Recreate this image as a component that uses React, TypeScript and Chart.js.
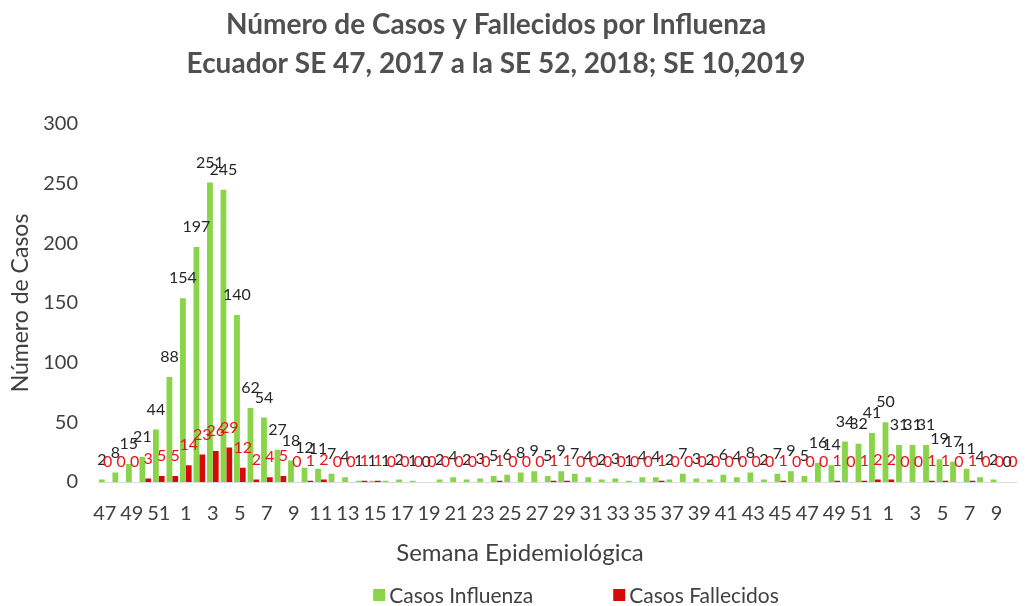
import React, { useEffect, useRef } from 'react';
import { Chart, registerables } from 'chart.js';

Chart.register(...registerables);

const weeks = [
  '47', '48', '49', '50', '51', '52',
  '1', '2', '3', '4', '5', '6', '7', '8', '9', '10',
  '11', '12', '13', '14', '15', '16', '17', '18', '19', '20',
  '21', '22', '23', '24', '25', '26', '27', '28', '29', '30',
  '31', '32', '33', '34', '35', '36', '37', '38', '39', '40',
  '41', '42', '43', '44', '45', '46', '47', '48', '49', '50',
  '51', '52',
  '1', '2', '3', '4', '5', '6', '7', '8', '9', '10',
];

const casosInfluenza = [
  2, 8, 15, 21, 44, 88,
  154, 197, 251, 245, 140, 62, 54, 27, 18, 12,
  11, 7, 4, 1, 1, 1, 2, 1, 0, 2,
  4, 2, 3, 5, 6, 8, 9, 5, 9, 7,
  4, 2, 3, 1, 4, 4, 2, 7, 3, 2,
  6, 4, 8, 2, 7, 9, 5, 16, 14, 34,
  32, 41,
  50, 31, 31, 31, 19, 17, 11, 4, 2, 0,
];

const casosFallecidos = [
  0, 0, 0, 3, 5, 5,
  14, 23, 26, 29, 12, 2, 4, 5, 0, 1,
  2, 0, 0, 1, 1, 0, 0, 0, 0, 0,
  0, 0, 0, 1, 0, 0, 0, 1, 1, 0,
  0, 0, 0, 0, 0, 1, 0, 0, 0, 0,
  0, 0, 0, 0, 1, 0, 0, 0, 1, 0,
  1, 2,
  2, 0, 0, 1, 1, 0, 1, 0, 0, 0,
];

const titleLines = [
  'Número de Casos y Fallecidos por Influenza',
  'Ecuador SE 47, 2017 a la SE 52, 2018; SE 10,2019',
];
const yAxisTitle = 'Número de Casos';
const xAxisTitle = 'Semana Epidemiológica';
const seriesNames = ['Casos Influenza', 'Casos Fallecidos'];

const GREEN = '#8AD44A';
const RED = '#D80808';
const FONT = 'Lato, "Open Sans", sans-serif';

const valueLabels = {
  id: 'valueLabels',
  afterDatasetsDraw(chart: any) {
    const ctx = chart.ctx;
    ctx.save();
    ctx.font = `16px ${FONT}`;
    ctx.textAlign = 'center';
    ctx.textBaseline = 'middle';
    chart.data.datasets.forEach((ds: any, i: number) => {
      const meta = chart.getDatasetMeta(i);
      ctx.fillStyle = ds.labelColor;
      meta.data.forEach((el: any, j: number) => {
        ctx.fillText(String(ds.data[j]), el.x, el.y - 20);
      });
    });
    ctx.restore();
  },
};

const decorations = {
  id: 'decorations',
  afterDraw(chart: any) {
    const ctx = chart.ctx;
    ctx.save();
    // main title
    ctx.fillStyle = '#505050';
    ctx.font = `bold 28px ${FONT}`;
    ctx.textAlign = 'center';
    ctx.textBaseline = 'alphabetic';
    ctx.fillText(titleLines[0], 496, 34);
    ctx.fillText(titleLines[1], 496, 73);
    // x axis title
    ctx.fillStyle = '#404040';
    ctx.font = `24px ${FONT}`;
    ctx.textBaseline = 'middle';
    ctx.fillText(xAxisTitle, 520, 553);
    // legend
    ctx.font = `21px ${FONT}`;
    const box = 12;
    const gap = 4;
    const spacing = 80;
    const w1 = ctx.measureText(seriesNames[0]).width;
    const w2 = ctx.measureText(seriesNames[1]).width;
    const total = box + gap + w1 + spacing + box + gap + w2;
    let x = 576 - total / 2;
    const cy = 595;
    const colors = chart.data.datasets.map((d: any) => d.backgroundColor);
    ctx.textAlign = 'left';
    ctx.fillStyle = colors[0];
    ctx.fillRect(x, cy - box / 2, box, box);
    x += box + gap;
    ctx.fillStyle = '#404040';
    ctx.fillText(seriesNames[0], x, cy + 1);
    x += w1 + spacing;
    ctx.fillStyle = colors[1];
    ctx.fillRect(x, cy - box / 2, box, box);
    x += box + gap;
    ctx.fillStyle = '#404040';
    ctx.fillText(seriesNames[1], x, cy + 1);
    ctx.restore();
  },
};

export default function App() {
  const canvasRef = useRef<HTMLCanvasElement | null>(null);

  useEffect(() => {
    if (!canvasRef.current) return;
    const chart = new Chart(canvasRef.current, {
      type: 'bar',
      data: {
        labels: weeks,
        datasets: [
          {
            label: seriesNames[0],
            data: casosInfluenza,
            backgroundColor: GREEN,
            labelColor: '#262626',
            categoryPercentage: 0.86,
            barPercentage: 1.0,
          } as any,
          {
            label: seriesNames[1],
            data: casosFallecidos,
            backgroundColor: RED,
            labelColor: '#E8141C',
            categoryPercentage: 0.86,
            barPercentage: 1.0,
          } as any,
        ],
      },
      options: {
        animation: false,
        responsive: true,
        maintainAspectRatio: false,
        layout: { padding: { top: 124, right: 1, bottom: 34, left: 0 } },
        plugins: {
          legend: { display: false },
          title: { display: false },
          tooltip: { enabled: false },
        },
        scales: {
          x: {
            grid: { display: false, drawTicks: false },
            border: { display: true, color: '#D9D9D9', width: 1 },
            ticks: {
              autoSkip: false,
              maxRotation: 0,
              minRotation: 0,
              padding: 20,
              color: '#404040',
              font: { family: FONT, size: 20 },
              callback: (_v: any, i: number) => (i % 2 === 0 ? weeks[i] : ''),
            },
            afterFit: (scale: any) => {
              scale.height = 90;
            },
          },
          y: {
            min: 0,
            max: 300,
            grid: { display: false, drawTicks: false },
            border: { display: false },
            ticks: {
              stepSize: 50,
              padding: 20,
              color: '#404040',
              font: { family: FONT, size: 20 },
            },
            title: {
              display: true,
              text: yAxisTitle,
              color: '#404040',
              font: { family: FONT, size: 23 },
              padding: { top: 7, bottom: 0 },
            },
            afterFit: (scale: any) => {
              scale.width = 98;
            },
          },
        },
      },
      plugins: [valueLabels, decorations],
    });
    return () => chart.destroy();
  }, []);

  return (
    <div style={{ position: 'fixed', left: 0, top: 0, width: 1030, height: 606, background: '#fff' }}>
      <canvas ref={canvasRef} />
    </div>
  );
}
